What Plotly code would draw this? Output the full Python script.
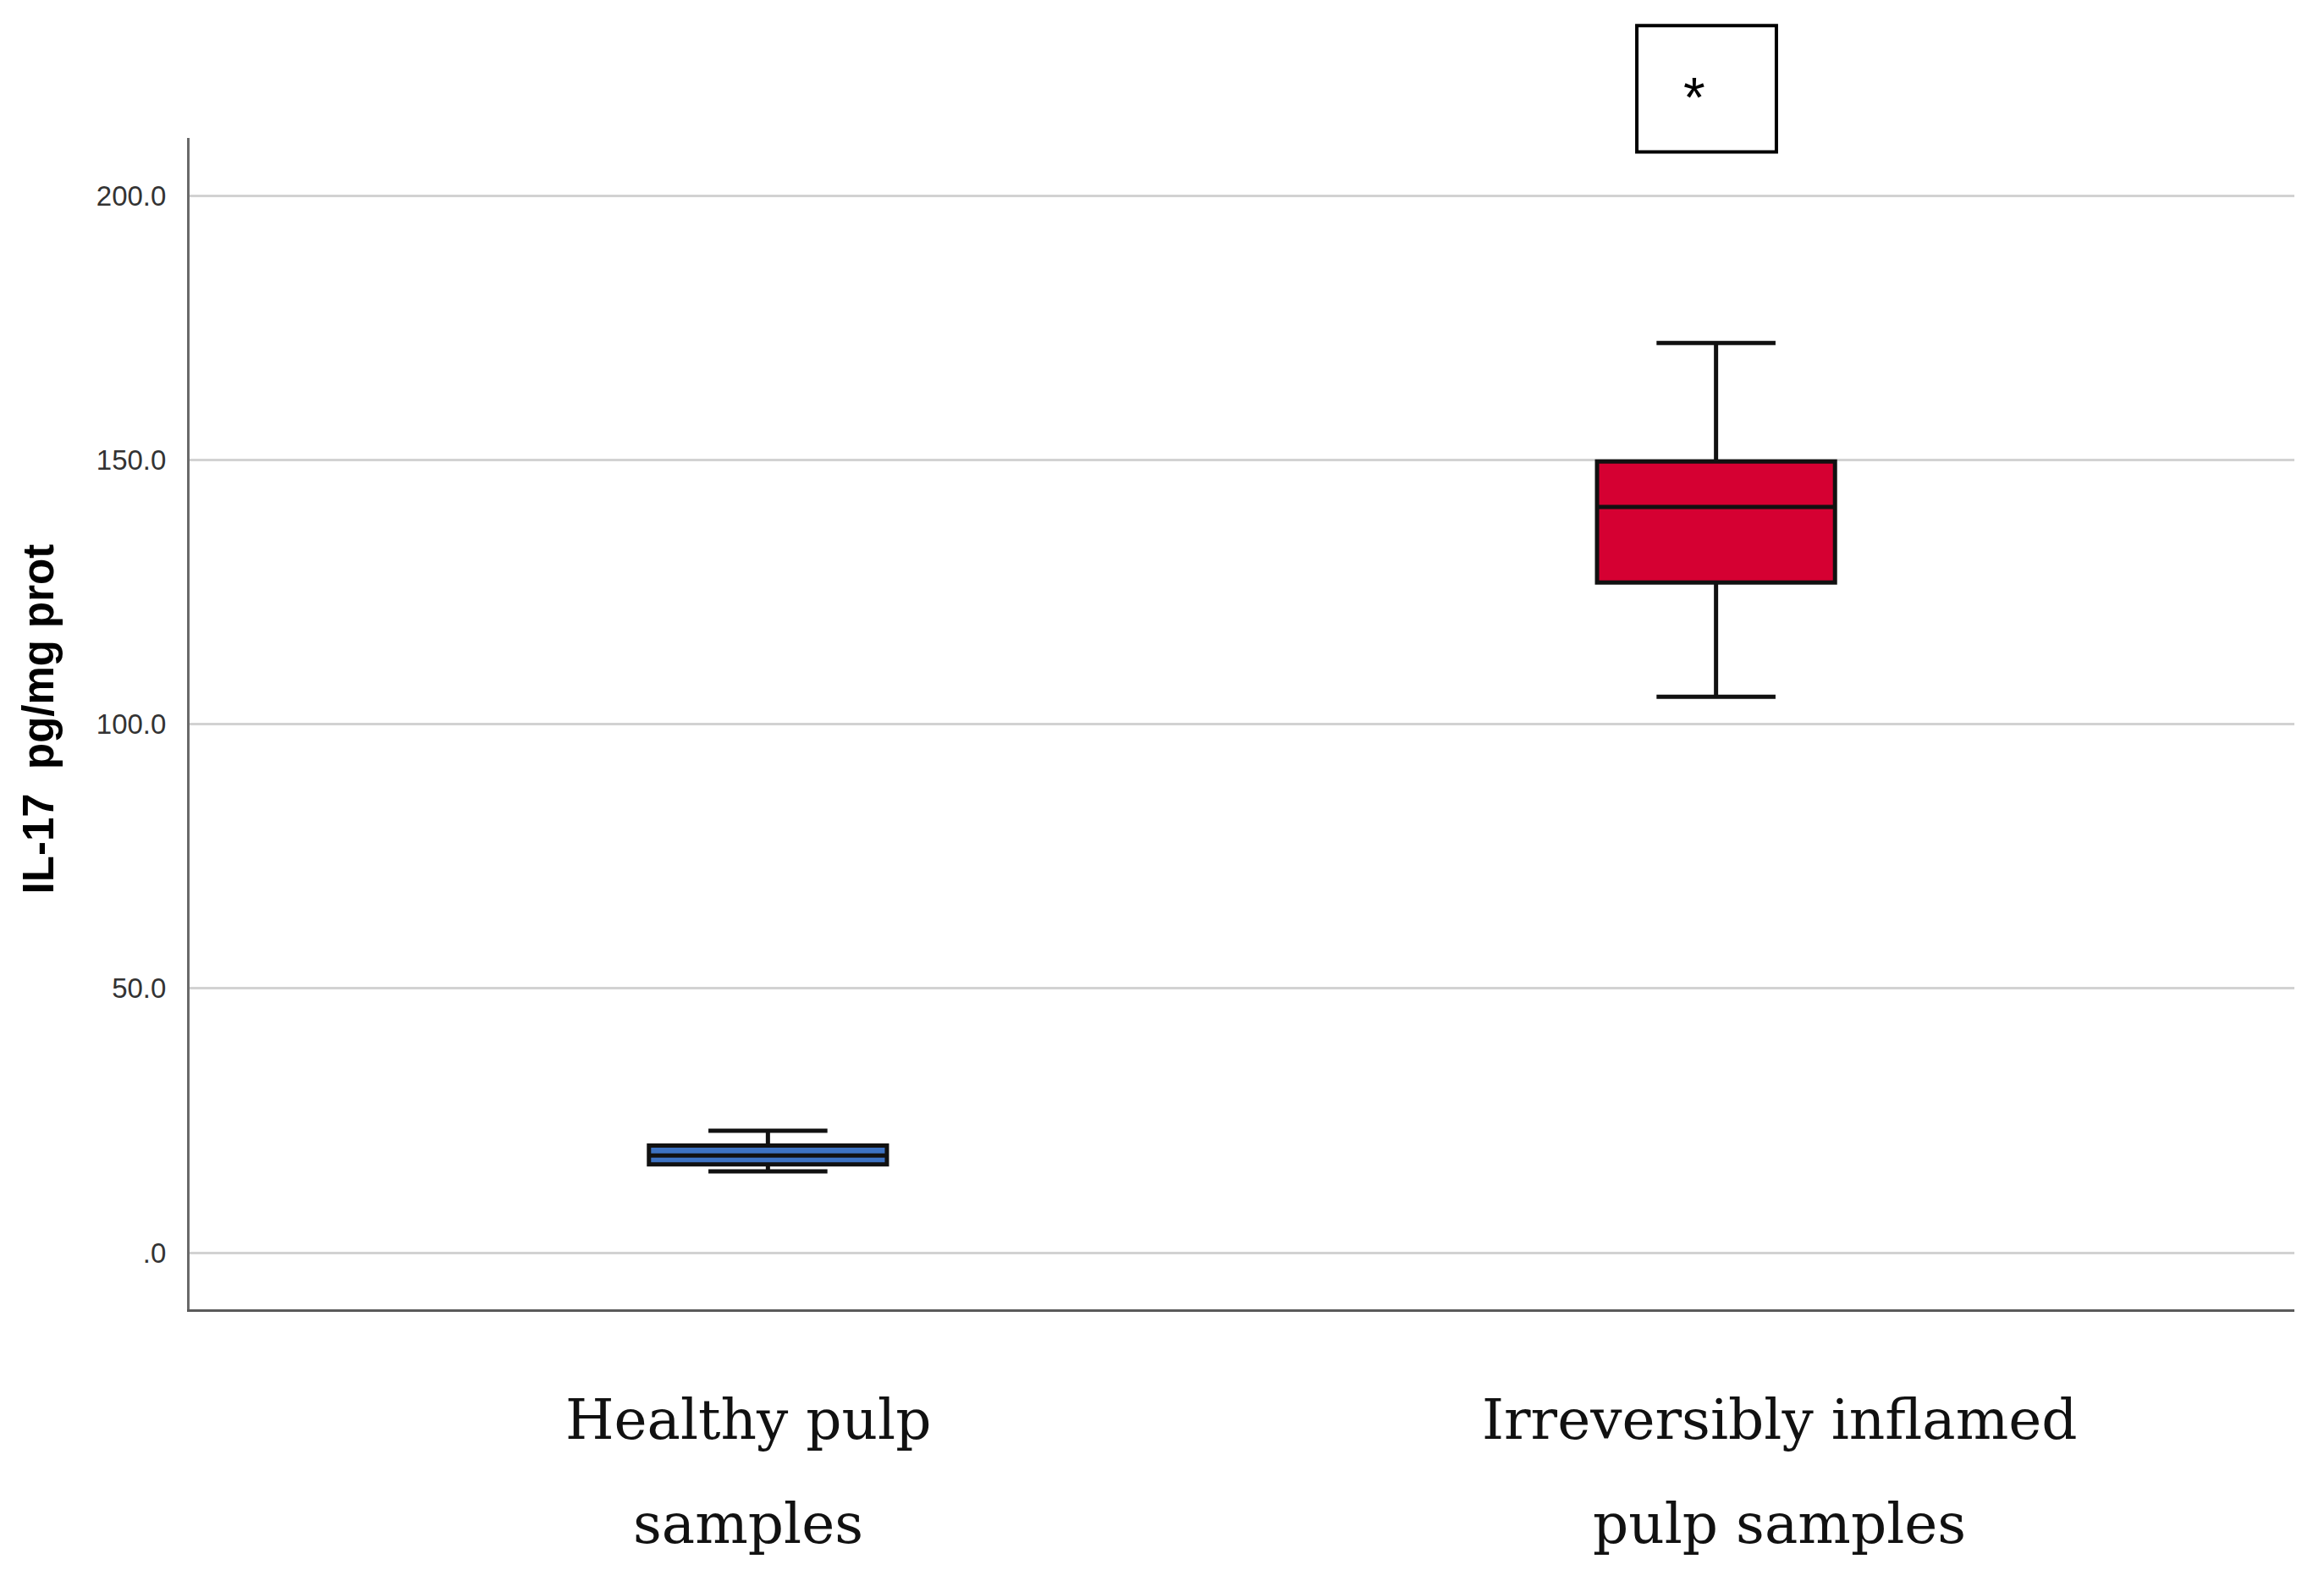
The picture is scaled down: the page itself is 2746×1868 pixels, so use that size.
import plotly.graph_objects as go

# ---- data ----
categories = ["Healthy pulp samples", "Irreversibly inflamed pulp samples"]
label_lines = [["Healthy pulp", "samples"], ["Irreversibly inflamed", "pulp samples"]]
lower_whisker = [15.4, 105.2]
q1_values = [16.7, 126.8]
median_values = [18.4, 141.1]
q3_values = [20.3, 149.7]
upper_whisker = [23.1, 172.1]
box_colors = ["#3D72C2", "#D50032"]
y_tick_values = [0, 50, 100, 150, 200]
y_tick_labels = [".0", "50.0", "100.0", "150.0", "200.0"]
y_title = "IL-17  pg/mg prot"
significance_mark = "*"

fig = go.Figure()
for i, cat in enumerate(categories):
    fig.add_trace(go.Box(
        x=[cat],
        q1=[q1_values[i]], median=[median_values[i]], q3=[q3_values[i]],
        lowerfence=[lower_whisker[i]], upperfence=[upper_whisker[i]],
        fillcolor=box_colors[i],
        line=dict(color="#111111", width=5),
        width=0.251,
        whiskerwidth=0.5,
        boxpoints=False,
        showlegend=False,
        hoverinfo="skip",
    ))

# category labels (two lines, serif), positioned under each box
label_shift = [-23, 75]
line_y = [-0.094, -0.1835]
for i, cat in enumerate(categories):
    for j, txt in enumerate(label_lines[i]):
        fig.add_annotation(
            x=cat, xref="x", y=line_y[j], yref="paper",
            text=txt, showarrow=False, xshift=label_shift[i],
            xanchor="center", yanchor="middle",
            font=dict(family="DejaVu Serif", size=66, color="#111111"),
        )

# y axis title
fig.add_annotation(
    x=-0.0716, xref="paper", y=0.504, yref="paper",
    text=f"<b>{y_title}</b>", textangle=-90, showarrow=False,
    xanchor="center", yanchor="middle",
    font=dict(family="Liberation Sans, Arial", size=51, color="#000000"),
)

# significance box with asterisk
fig.add_shape(
    type="rect", xref="paper", yref="paper",
    x0=0.6876, x1=0.7539, y0=0.988, y1=1.096,
    line=dict(color="#000000", width=4), fillcolor="white", layer="above",
)
fig.add_annotation(
    x=0.715, xref="paper", y=1.035, yref="paper",
    text=significance_mark, showarrow=False,
    xanchor="center", yanchor="middle",
    font=dict(family="Liberation Sans, Arial", size=66, color="#000000"),
)

fig.update_layout(
    width=2730, height=1852,
    margin=dict(l=216, r=27, t=155, b=313),
    paper_bgcolor="white", plot_bgcolor="white",
    showlegend=False,
)
fig.update_xaxes(
    type="category", range=[-0.61, 1.61],
    showticklabels=False, ticks="", showgrid=False, zeroline=False,
    showline=True, linecolor="#5a5a5a", linewidth=3,
)
fig.update_yaxes(
    range=[-10.7, 210.9],
    tickmode="array", tickvals=y_tick_values, ticktext=y_tick_labels,
    tickfont=dict(family="Liberation Sans, Arial", size=33, color="#333333"),
    ticks="", ticklabelstandoff=18,
    showgrid=True, gridcolor="#d2d2d2", gridwidth=3,
    zeroline=False,
    showline=True, linecolor="#6a6a6a", linewidth=3,
)

fig.write_html("out.html")
